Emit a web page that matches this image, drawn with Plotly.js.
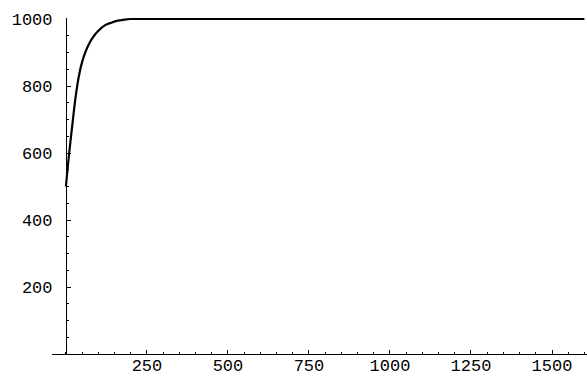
<!DOCTYPE html>
<html>
<head>
<meta charset="utf-8">
<script src="https://cdn.plot.ly/plotly-3.0.1.min.js"></script>
<style>html,body{margin:0;padding:0;background:#fff;}#chart{width:587px;height:377px;}</style>
</head>
<body>
<div id="chart"></div>
<script>
// Values
const tValues = [0, 10, 20, 30, 40, 50, 60, 70, 80, 100, 120, 140, 160, 180, 200, 230, 500, 1000, 1600];
const popValues = [500, 600, 686, 768, 830, 872, 901, 923, 941, 965, 981, 989, 995, 998, 1000, 1000, 1000, 1000, 1000];
const xTickVals = [250, 500, 750, 1000, 1250, 1500];
const yTickVals = [200, 400, 600, 800, 1000];

const xRange = [-43, 1608];
const yRange = [0, 1003];
const font = {family: 'Liberation Mono, Courier New, monospace', size: 17, color: '#000'};

const trace = {
  x: tValues, y: popValues, type: 'scatter', mode: 'lines',
  line: {color: '#000', width: 2.2, shape: 'spline', smoothing: 1},
  hoverinfo: 'skip'
};

const layout = {
  width: 587, height: 377,
  margin: {l: 52, r: 0, t: 18, b: 23, pad: 0},
  paper_bgcolor: '#fff', plot_bgcolor: '#fff',
  showlegend: false,
  font: font,
  xaxis: {
    range: xRange, showgrid: false, zeroline: false,
    showline: true, linecolor: '#000', linewidth: 1.2,
    tickmode: 'array', tickvals: xTickVals, ticktext: xTickVals.map(String),
    ticks: 'inside', ticklen: 4, tickwidth: 1, tickcolor: '#000',
    minor: {dtick: 50, tick0: 0, ticks: 'inside', ticklen: 2, tickwidth: 1, tickcolor: '#000', showgrid: false},
    tickfont: font, ticklabelstandoff: -5
  },
  yaxis: {
    range: yRange, showgrid: false, zeroline: false,
    anchor: 'free', position: (0 - xRange[0]) / (xRange[1] - xRange[0]),
    showline: true, linecolor: '#000', linewidth: 1.2,
    tickmode: 'array', tickvals: yTickVals, ticktext: yTickVals.map(String),
    ticks: 'inside', ticklen: 4, tickwidth: 1, tickcolor: '#000',
    minor: {dtick: 50, tick0: 0, ticks: 'inside', ticklen: 2, tickwidth: 1, tickcolor: '#000', showgrid: false},
    tickfont: font, ticklabelstandoff: 10
  }
};

Plotly.newPlot('chart', [trace], layout, {staticPlot: true, displayModeBar: false});
</script>
</body>
</html>
